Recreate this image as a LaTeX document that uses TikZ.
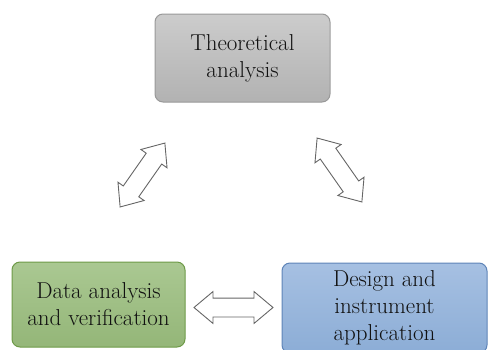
\documentclass[tikz,border=0pt]{standalone}
\usetikzlibrary{shapes.arrows}
\definecolor{grayfillA}{HTML}{CCCCCC}
\definecolor{grayfillB}{HTML}{B2B2B2}
\definecolor{grayline}{HTML}{999999}
\definecolor{greenA}{HTML}{AAC892}
\definecolor{greenB}{HTML}{94B678}
\definecolor{greenline}{HTML}{6E9A48}
\definecolor{blueA}{HTML}{A6C0E2}
\definecolor{blueB}{HTML}{8CADD6}
\definecolor{blueline}{HTML}{5E84B8}
\definecolor{arrowline}{HTML}{666666}
\definecolor{txt}{HTML}{111111}
\tikzset{
  box/.style={rectangle, rounded corners=8pt, line width=1pt, inner sep=0pt,
    align=center, text=txt, font=\fontsize{23}{27}\selectfont},
  dblarrow/.style={double arrow, draw=arrowline, fill=white, line width=0.9pt,
    inner sep=0pt, text height=9pt, text depth=9pt, text width=0pt,
    double arrow head extend=6.5pt,
    double arrow head indent=0pt, double arrow tip angle=80}
}
\begin{document}
\begin{tikzpicture}[x=1pt,y=-1pt]
\useasboundingbox (0,0) rectangle (488,349);
\node[box, draw=grayline, top color=grayfillA, bottom color=grayfillB,
  minimum width=175pt, minimum height=88pt] (theory) at (242.5,58) {Theoretical\\analysis};
\node[box, draw=greenline, top color=greenA, bottom color=greenB,
  minimum width=173pt, minimum height=85pt] (data) at (98.5,304.5) {Data analysis\\and verification};
\node[box, draw=blueline, top color=blueA, bottom color=blueB,
  minimum width=205pt, minimum height=90pt] (design) at (384.5,308) {Design and\\instrument\\application};
\node[dblarrow, minimum height=78pt, rotate=55] (a1) at (142.5,175) {};
\node[dblarrow, minimum height=78pt, rotate=-55] (a2) at (339.5,170) {};
\node[dblarrow, minimum height=79pt] (a3) at (233.5,307.5) {};
\end{tikzpicture}
\end{document}
